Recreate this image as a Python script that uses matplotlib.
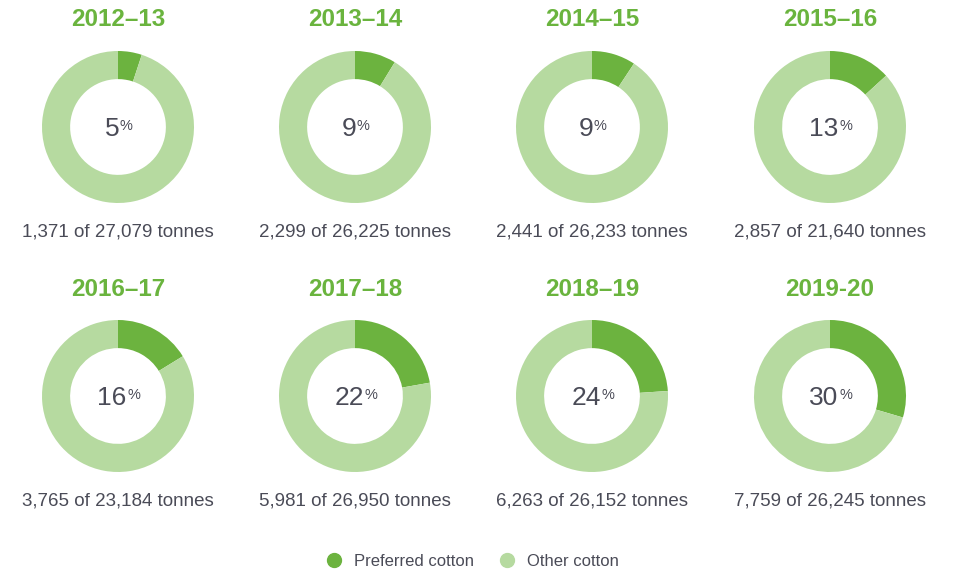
import matplotlib
matplotlib.use("Agg")
import matplotlib.pyplot as plt
from matplotlib.lines import Line2D

# data
years = ["2012–13", "2013–14", "2014–15", "2015–16",
         "2016–17", "2017–18", "2018–19", "2019-20"]
preferred = [1371, 2299, 2441, 2857, 3765, 5981, 6263, 7759]
total = [27079, 26225, 26233, 21640, 23184, 26950, 26152, 26245]
pct_labels = ["5", "9", "9", "13", "16", "22", "24", "30"]
legend_labels = ["Preferred cotton", "Other cotton"]

dark = "#6cb33f"
light = "#b6daa0"
title_col = "#6ab43e"
text_col = "#4a4b57"
plt.rcParams["font.family"] = ["Liberation Sans", "DejaVu Sans"]

W, H = 955, 573
fig = plt.figure(figsize=(W / 100, H / 100), dpi=100)
ax = fig.add_axes([0, 0, 1, 1])

col_x = [118, 355, 592, 830]
row_y = [127, 396]   # donut centres, pixels from top
R = 76

for i, yr in enumerate(years):
    cx = col_x[i % 4]
    cy = H - row_y[i // 4]
    other = total[i] - preferred[i]
    ax.pie([preferred[i], other], colors=[dark, light], startangle=90,
           counterclock=False, center=(cx, cy), radius=R,
           wedgeprops=dict(width=R * 0.37, linewidth=0), frame=True)
    # title
    ax.text(cx, cy + 107, yr, ha="center", va="center", fontsize=17.5,
            fontweight="bold", color=title_col)
    # percentage in the middle
    num = ax.text(cx - 6, cy - 2, pct_labels[i], ha="center", va="center",
                  fontsize=19, color=text_col)
    ax.annotate("%", xy=(1.02, 0.9), xycoords=num, ha="left", va="top",
                fontsize=10.5, color=text_col)
    # tonnes line below
    ax.text(cx, cy - 105, f"{preferred[i]:,} of {total[i]:,} tonnes",
            ha="center", va="center", fontsize=13.5, color=text_col)

ax.set_xlim(0, W)
ax.set_ylim(0, H)
ax.set_aspect("equal")
ax.axis("off")

handles = [Line2D([], [], marker="o", linestyle="", markersize=10,
                  markerfacecolor=c, markeredgecolor=c) for c in (dark, light)]
leg = fig.legend(handles, legend_labels, loc="center", ncol=2,
                 bbox_to_anchor=(468 / W, 1 - 561 / H), frameon=False,
                 handletextpad=0.2, columnspacing=1.0,
                 prop=dict(size=12))
for t in leg.get_texts():
    t.set_color(text_col)

fig.savefig("out.png", dpi=100)
